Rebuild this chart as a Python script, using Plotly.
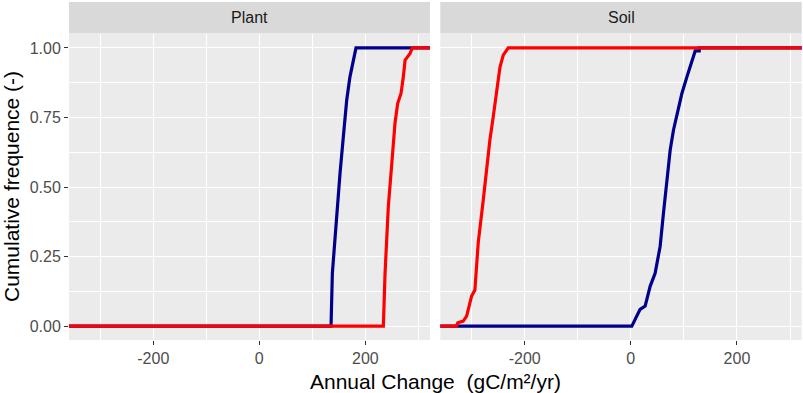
import plotly.graph_objects as go

# ---- data ----
facets = ["Plant", "Soil"]

plant_blue_x = [-400, 135.3, 137.8, 146.0, 152.3, 158.5, 164.9, 171.0, 177.4, 182.4, 400]
plant_blue_y = [0, 0, 0.19, 0.406, 0.55, 0.68, 0.813, 0.896, 0.956, 1.0, 1.0]

plant_red_x = [-400, 234.0, 237.2, 243.4, 251.0, 256.0, 261.0, 267.4, 271.7, 275.0, 284.4, 288.7, 400]
plant_red_y = [0, 0, 0.19, 0.43, 0.61, 0.73, 0.80, 0.837, 0.896, 0.956, 0.98, 1.0, 1.0]

soil_blue_x = [-400, 1.9, 8.1, 17.5, 27.0, 36.4, 45.8, 55.3, 61.5, 67.9, 74.2, 80.4, 89.8, 96.2,
               105.7, 115.1, 121.3, 128.9, 128.9, 400]
soil_blue_y = [0, 0, 0.024, 0.06, 0.072, 0.143, 0.19, 0.287, 0.406, 0.526, 0.633, 0.705, 0.789, 0.836,
               0.896, 0.956, 0.989, 0.989, 1.0, 1.0]

soil_red_x = [-400, -328.3, -326.0, -315.8, -309.4, -300.0, -293.8, -287.5, -278.0, -271.7, -265.5,
              -259.2, -252.8, -246.6, -240.4, -231.0, 400]
soil_red_y = [0, 0, 0.012, 0.018, 0.036, 0.108, 0.13, 0.30, 0.454, 0.573, 0.67,
              0.753, 0.848, 0.93, 0.974, 1.0, 1.0]

x_ticks = [-200, 0, 200]
y_ticks = [0, 0.25, 0.5, 0.75, 1.0]
y_ticklabels = ["0.00", "0.25", "0.50", "0.75", "1.00"]

BLUE = "#00008B"
RED = "#FF0000"
FONT = "Liberation Sans, Arial, sans-serif"

W, H = 803, 393
# panel pixel geometry
left_dom = [69 / W, 430 / W]
right_dom = [440.3 / W, 801.7 / W]
y_dom = [(H - 340) / H, (H - 34) / H]

fig = go.Figure()
fig.add_trace(go.Scatter(x=plant_blue_x, y=plant_blue_y, mode="lines",
                         line=dict(color=BLUE, width=3.2), xaxis="x", yaxis="y"))
fig.add_trace(go.Scatter(x=plant_red_x, y=plant_red_y, mode="lines",
                         line=dict(color=RED, width=3.2), xaxis="x", yaxis="y"))
fig.add_trace(go.Scatter(x=soil_blue_x, y=soil_blue_y, mode="lines",
                         line=dict(color=BLUE, width=3.2), xaxis="x2", yaxis="y2"))
fig.add_trace(go.Scatter(x=soil_red_x, y=soil_red_y, mode="lines",
                         line=dict(color=RED, width=3.2), xaxis="x2", yaxis="y2"))

xcommon = dict(range=[-359, 322], tickvals=x_ticks, ticktext=[str(v) for v in x_ticks],
               showgrid=True, gridcolor="white", gridwidth=1.1, zeroline=False,
               ticks="outside", ticklen=4, tickwidth=1, tickcolor="#333333",
               tickfont=dict(family=FONT, size=16, color="#4D4D4D"),
               minor=dict(tickvals=[-300, -100, 100, 300], showgrid=True,
                          gridcolor="white", gridwidth=0.5, ticks=""),
               showline=False, fixedrange=True, automargin=False)
ycommon = dict(range=[-0.05, 1.05], tickvals=y_ticks, ticktext=y_ticklabels,
               showgrid=True, gridcolor="white", gridwidth=1.1, zeroline=False,
               minor=dict(tickvals=[0.125, 0.375, 0.625, 0.875], showgrid=True,
                          gridcolor="white", gridwidth=0.5, ticks=""),
               showline=False, fixedrange=True, automargin=False)

fig.update_layout(
    width=W, height=H,
    margin=dict(l=0, r=0, t=0, b=0, autoexpand=False),
    paper_bgcolor="white", plot_bgcolor="#EBEBEB",
    showlegend=False,
    xaxis=dict(domain=left_dom, anchor="y", **xcommon),
    xaxis2=dict(domain=right_dom, anchor="y2", **xcommon),
    yaxis=dict(domain=y_dom, anchor="x", ticks="outside", ticklen=4, tickwidth=1,
               tickcolor="#333333", tickfont=dict(family=FONT, size=16, color="#4D4D4D"),
               **ycommon),
    yaxis2=dict(domain=y_dom, anchor="x2", showticklabels=False, ticks="", **ycommon),
    font=dict(family=FONT),
)

# facet strips
strip_y0 = (H - 33.5) / H
strip_y1 = (H - 2) / H
for dom, label in zip([left_dom, right_dom], facets):
    fig.add_shape(type="rect", xref="paper", yref="paper", x0=dom[0], x1=dom[1],
                  y0=strip_y0, y1=strip_y1, fillcolor="#D9D9D9", line=dict(width=0), layer="below")
    fig.add_annotation(x=(dom[0] + dom[1]) / 2, y=(strip_y0 + strip_y1) / 2, xref="paper", yref="paper",
                       text=label, showarrow=False, font=dict(family=FONT, size=16, color="#1A1A1A"),
                       xanchor="center", yanchor="middle")

# axis titles
fig.add_annotation(x=(left_dom[0] + right_dom[1]) / 2, y=(H - 381) / H, xref="paper", yref="paper",
                   text="Annual Change  (gC/m²/yr)", showarrow=False,
                   font=dict(family=FONT, size=21, color="black"), xanchor="center", yanchor="middle")
fig.add_annotation(x=11 / W, y=(H - 187) / H, xref="paper", yref="paper",
                   text="Cumulative frequence (-)", showarrow=False, textangle=-90,
                   font=dict(family=FONT, size=21, color="black"), xanchor="center", yanchor="middle")

fig.write_html("out.html", config={"displayModeBar": False},
               post_script="document.body.style.margin='0px';document.body.style.overflow='hidden';")
